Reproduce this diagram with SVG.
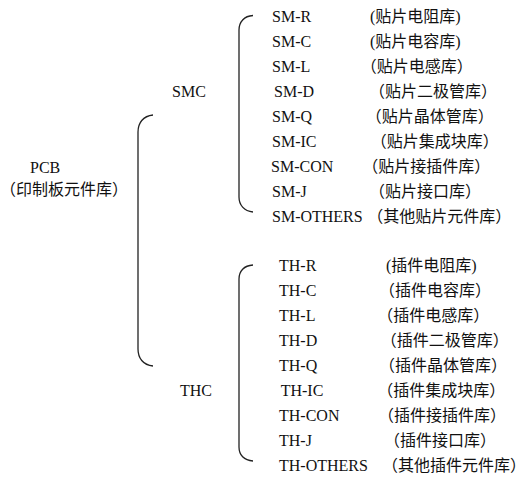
<svg xmlns="http://www.w3.org/2000/svg" width="528" height="486" viewBox="0 0 528 486">
<style>
text{font-family:"Liberation Serif","Noto Sans CJK SC",serif;font-size:16px;fill:#111}
.br{fill:none;stroke:#222;stroke-width:1.3}
</style>
<rect width="528" height="486" fill="#fff"/>
<g id="connectors">
<path class="br" d="M153,115 C143,116 138,123 138,132 L138,349 C138,358 143,365 153,366"/>
<path class="br" d="M253,15.5 C244,16 239,22 239,30 L239,197 C239,205 244,211 253,212"/>
<path class="br" d="M253,265 C244,265.5 239,271 239,279 L239,447 C239,455 244,460.5 253,461"/>
</g>
<g id="pcb"><text x="30" y="172.5">PCB</text><text x="0" y="195">（印制板元件库）</text></g>
<g id="smc"><text x="172" y="97">SMC</text></g>
<g id="thc"><text x="180" y="396">THC</text></g>
<g id="sm-r"><text x="272" y="22">SM-R</text><text x="370" y="22">(贴片电阻库)</text></g>
<g id="sm-c"><text x="272" y="47">SM-C</text><text x="370" y="47">(贴片电容库)</text></g>
<g id="sm-l"><text x="272" y="72">SM-L</text><text x="360.7" y="72">（贴片电感库）</text></g>
<g id="sm-d"><text x="274" y="97">SM-D</text><text x="369" y="97">（贴片二极管库）</text></g>
<g id="sm-q"><text x="272" y="122">SM-Q</text><text x="365.7" y="122">（贴片晶体管库）</text></g>
<g id="sm-ic"><text x="272" y="147">SM-IC</text><text x="370.7" y="147">（贴片集成块库）</text></g>
<g id="sm-con"><text x="271" y="172">SM-CON</text><text x="362.3" y="172">（贴片接插件库）</text></g>
<g id="sm-j"><text x="272" y="197">SM-J</text><text x="369" y="197">（贴片接口库）</text></g>
<g id="sm-others"><text x="272" y="222">SM-OTHERS</text><text x="367.3" y="222">（其他贴片元件库）</text></g>
<g id="th-r"><text x="279" y="271">TH-R</text><text x="386" y="271">(插件电阻库)</text></g>
<g id="th-c"><text x="279" y="296">TH-C</text><text x="379" y="296">（插件电容库）</text></g>
<g id="th-l"><text x="279" y="321">TH-L</text><text x="377.3" y="321">（插件电感库）</text></g>
<g id="th-d"><text x="279" y="346">TH-D</text><text x="380.7" y="346">（插件二极管库）</text></g>
<g id="th-q"><text x="279" y="371">TH-Q</text><text x="379" y="371">（插件晶体管库）</text></g>
<g id="th-ic"><text x="280.7" y="396">TH-IC</text><text x="377.3" y="396">（插件集成块库）</text></g>
<g id="th-con"><text x="279" y="421">TH-CON</text><text x="378" y="421">（插件接插件库）</text></g>
<g id="th-j"><text x="279" y="446">TH-J</text><text x="384" y="446">（插件接口库）</text></g>
<g id="th-others"><text x="279" y="471">TH-OTHERS</text><text x="382" y="471">（其他插件元件库）</text></g>
</svg>
